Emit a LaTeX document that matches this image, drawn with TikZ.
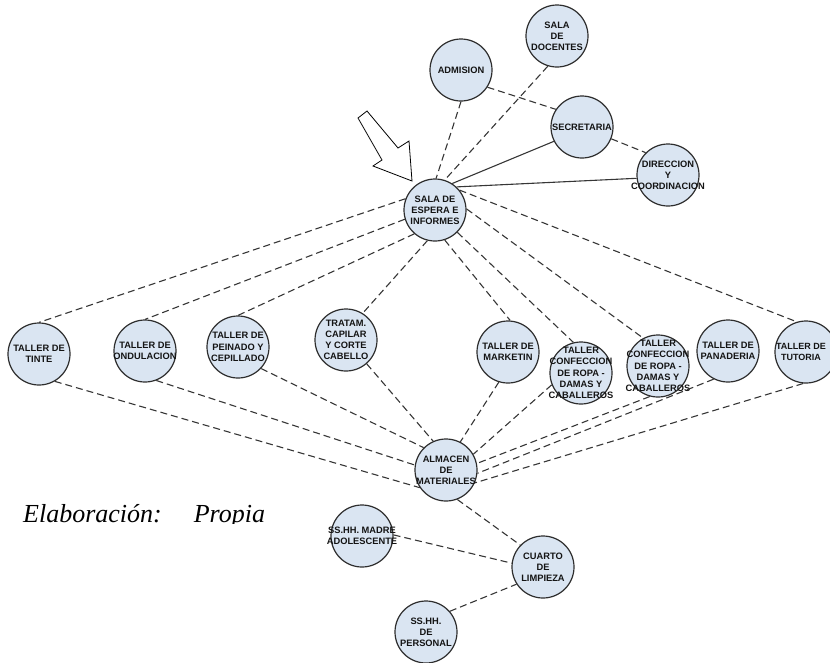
\documentclass[tikz,border=0pt]{standalone}
\usepackage{fontspec}
\setmainfont{Liberation Serif}
\setsansfont{Liberation Sans}
\definecolor{roomfill}{HTML}{DAE5F2}
\definecolor{roomline}{HTML}{2E2E2E}
\definecolor{linkline}{HTML}{363636}
\definecolor{labeltext}{HTML}{141414}

\begin{document}
\begin{tikzpicture}[x=1pt, y=-1pt,
    roomtext/.style={align=center, inner sep=0pt, text=labeltext,
      font=\sffamily\bfseries\fontsize{9.3}{11.2}\selectfont},
    roomdisc/.style={circle, draw=roomline, fill=roomfill, line width=1.2pt,
      minimum size=62pt, inner sep=0pt},
    room/.style={roomdisc, label={[roomtext]center:#1}},
    link/.style={linkline, line width=1.1pt, dash pattern=on 7pt off 4pt},
    wall/.style={linkline, line width=1.1pt}]
  \useasboundingbox (0,0) rectangle (830,662);
  % zona administrativa
  \node[room={SALA\\DE\\DOCENTES}] (docentes) at (557,36) {};
  \node[room={ADMISION}] (admision) at (461,70) {};
  \node[room={SECRETARIA}] (secretaria) at (582,127) {};
  \node[room={DIRECCION\\Y\\COORDINACION}] (direccion) at (668,175) {};
  \node[room={SALA DE\\ESPERA E\\INFORMES}] (espera) at (435,210) {};
  % talleres
  \node[room={TALLER DE\\TINTE}] (tinte) at (39,354) {};
  \node[room={TALLER DE\\ONDULACION}] (ondulacion) at (145,351) {};
  \node[room={TALLER DE\\PEINADO Y\\CEPILLADO}] (peinado) at (238,347) {};
  \node[room={TRATAM.\\CAPILAR\\Y CORTE\\CABELLO}] (tratam) at (346,340) {};
  \node[room={TALLER DE\\MARKETIN}] (marketin) at (508,352) {};
  \node[room={TALLER\\CONFECCION\\DE ROPA -\\DAMAS Y\\CABALLEROS}] (confeccionA) at (581,373) {};
  \node[room={TALLER\\CONFECCION\\DE ROPA -\\DAMAS Y\\CABALLEROS}] (confeccionB) at (658,366) {};
  \node[room={TALLER DE\\PANADERIA}] (panaderia) at (728,351) {};
  \node[roomdisc, label={[roomtext, xshift=-5pt, font=\sffamily\bfseries\fontsize{9}{11.2}\selectfont]center:TALLER DE\\TUTORIA}]
    (tutoria) at (806,352) {};
  % servicios
  \node[room={ALMACEN\\DE\\MATERIALES}] (almacen) at (446,470) {};
  \node[room={SS.HH. MADRE\\ADOLESCENTE}] (madre) at (362,536) {};
  \node[room={CUARTO\\DE\\LIMPIEZA}] (cuarto) at (543,567) {};
  \node[room={SS.HH.\\DE\\PERSONAL}] (personal) at (426,632) {};

  \draw[link] (admision.-90) -- (espera.88);
  \draw[link] (docentes.-107) -- (espera.72);
  \draw[link] (admision.-33) -- (secretaria.146);
  \draw[link] (secretaria.-22) -- (direccion.135);
  \draw[wall] (secretaria.207) -- (espera.57);
  \draw[wall] (direccion.186) -- (espera.47);

  \draw[link] (espera.159) -- (tinte.90);
  \draw[link] (espera.197) -- (ondulacion.90);
  \draw[link] (espera.229) -- (peinado.90);
  \draw[link] (espera.256) -- (tratam.58);
  \draw[link] (espera.288) -- (marketin.86);
  \draw[link] (espera.315) -- (confeccionA.104);
  \draw[link] (espera.2) -- (confeccionB.118);
  \draw[link] (espera.39) -- (tutoria.107);

  \draw[link] (tinte.-60) -- (almacen.214);
  \draw[link] (ondulacion.-69) -- (almacen.171);
  \draw[link] (peinado.-43) -- (almacen.135);
  \draw[link] (tratam.-49) -- (almacen.114);
  \draw[link] (marketin.-107) -- (almacen.63);
  \draw[link] (confeccionA.-158) -- (almacen.30);
  \draw[link] (confeccionB.-105) -- (almacen.12);
  \draw[link] (panaderia.-117) -- (almacen.-6);
  \draw[link] (tutoria.-95) -- (almacen.-24);

  \draw[link] (almacen.-69) -- (cuarto.136);
  \draw[link] (madre.2) -- (cuarto.173);
  \draw[link] (personal.41) -- (cuarto.213);

  % flecha de ingreso
  \draw[black, line width=0.8pt, fill=white] (358,118) -- (382,160) -- (373,166)
    -- (412,181) -- (409,141) -- (398,148) -- (367,111) -- cycle;

  % fuente
  \begin{scope}
    \clip (0,480) rectangle (300,523);
    \node[anchor=base west, inner sep=0pt, font=\itshape\fontsize{26}{30}\selectfont]
      (fuente) at (23,522) {Elaboración:\hspace{32pt}Propia};
  \end{scope}
\end{tikzpicture}
\end{document}
